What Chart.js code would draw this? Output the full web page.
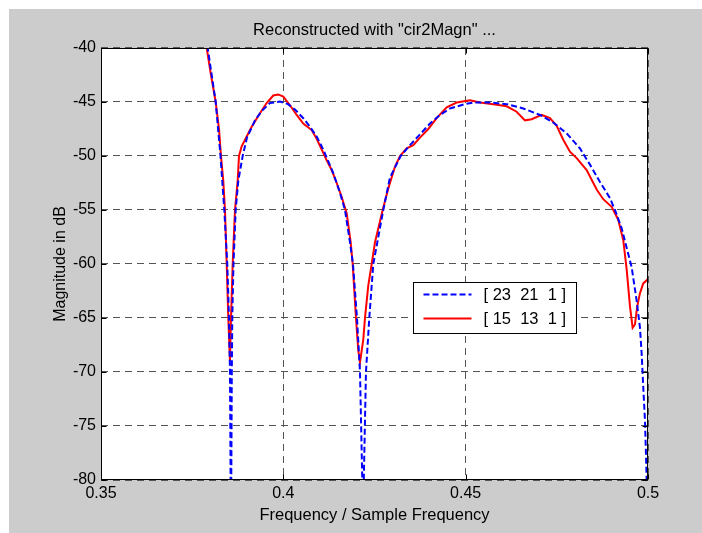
<!DOCTYPE html>
<html><head><meta charset="utf-8">
<script src="https://cdn.jsdelivr.net/npm/chart.js@4"></script>
<style>html,body{margin:0;padding:0;background:#fff}#wrap{width:702px;height:533px;position:relative}</style>
</head><body><div id="wrap"><canvas id="c"></canvas></div>
<script>
const titleText = 'Reconstructed with "cir2Magn" ...';
const xLabel = 'Frequency / Sample Frequency';
const yLabel = 'Magnitude in dB';
const xTicks = [0.35, 0.40, 0.45, 0.50];
const yTicks = [-80, -75, -70, -65, -60, -55, -50, -45, -40];
const seriesLabels = ['[ 23  21  1 ]', '[ 15  13  1 ]'];

const blueFreq = [0.37769,0.37926,0.38145,0.38277,0.38381,0.38463,0.38510,0.38537,0.38554,0.38562,0.38573,0.38587,0.38600,0.38633,0.38693,0.38765,0.38885,0.39003,0.39223,0.39415,0.39634,0.39908,0.40128,0.40319,0.40547,0.40731,0.40914,0.41095,0.41370,0.41553,0.41690,0.41828,0.41910,0.42020,0.42102,0.42165,0.42184,0.42206,0.42266,0.42357,0.42467,0.42741,0.42924,0.43218,0.43473,0.43747,0.44021,0.44295,0.44570,0.44981,0.45208,0.45666,0.46124,0.46580,0.47037,0.47402,0.47770,0.48134,0.48408,0.48683,0.48957,0.49094,0.49278,0.49415,0.49552,0.49689,0.49780,0.49826,0.49870,0.49917,0.49944,0.49963,0.50000];
const blueDb = [-36.5,-40,-45,-50,-55,-60,-65,-70,-80,-100,-80,-70,-65,-60,-55,-52.3,-50,-48.3,-46.7,-45.8,-45.1,-44.95,-45.2,-45.7,-46.5,-47.3,-48.2,-49.4,-51.6,-53.4,-55,-58,-60,-65,-70,-80,-100,-80,-70,-65,-60,-55,-52,-50,-49,-48,-47,-46.2,-45.6,-45.2,-45.05,-45.05,-45.2,-45.6,-46.2,-46.9,-47.9,-49.3,-50.8,-52.4,-53.9,-55,-56.7,-58.5,-60.3,-63.4,-65.9,-68.3,-71.4,-74.5,-77.6,-80,-100];

const redFreq = [0.37838,0.37898,0.38016,0.38145,0.38236,0.38290,0.38353,0.38400,0.38447,0.38491,0.38537,0.38565,0.38611,0.38674,0.38748,0.38784,0.38858,0.38995,0.39132,0.39360,0.39543,0.39724,0.39862,0.39999,0.40182,0.40366,0.40547,0.40777,0.40914,0.41052,0.41189,0.41326,0.41463,0.41600,0.41737,0.41847,0.41902,0.41992,0.42055,0.42102,0.42192,0.42239,0.42329,0.42423,0.42513,0.42724,0.42878,0.43061,0.43199,0.43382,0.43563,0.43747,0.43975,0.44205,0.44479,0.44753,0.45118,0.45392,0.45757,0.46124,0.46398,0.46626,0.46810,0.47084,0.47312,0.47495,0.47676,0.47860,0.48044,0.48318,0.48592,0.48773,0.49003,0.49184,0.49322,0.49415,0.49505,0.49579,0.49642,0.49706,0.49780,0.49870,0.50000];
const redDb = [-38,-40,-42.5,-45,-47.5,-50,-52.3,-55,-60,-65,-69,-65,-60,-55,-52.3,-50,-49.1,-48.2,-47.3,-46.05,-45.1,-44.4,-44.3,-44.5,-45.3,-46.2,-47.0,-47.6,-48.4,-49.4,-50.4,-51.3,-52.5,-53.8,-55.3,-58,-60,-65,-68,-69.1,-67,-65,-62,-60,-58,-55,-53,-51,-50,-49.3,-49,-48.3,-47.5,-46.5,-45.5,-45.05,-44.85,-45.05,-45.2,-45.4,-45.9,-46.7,-46.6,-46.2,-46.5,-47.2,-48.5,-49.6,-50.2,-51.3,-53.1,-54.0,-54.7,-55.9,-57.8,-60.5,-63.9,-65.9,-65.6,-63.9,-62.7,-61.8,-61.4];

const FONT = '"Liberation Sans", Arial, Helvetica, sans-serif';
const toXY = (xs, ys) => xs.map((x, i) => ({x, y: ys[i]}));

const frame = {
  id: 'frame',
  beforeDraw(chart) {
    const {ctx, width, height, chartArea: a} = chart;
    ctx.save();
    ctx.fillStyle = '#ffffff'; ctx.fillRect(0, 0, width, height);
    ctx.fillStyle = '#cccccc'; ctx.fillRect(9, 9, width - 9, height - 9);
    ctx.fillStyle = '#ffffff'; ctx.fillRect(a.left, a.top, a.right - a.left, a.bottom - a.top);
    ctx.restore();
  },
  afterDatasetsDraw(chart) {
    const {ctx, chartArea: a, scales} = chart;
    ctx.save();
    ctx.strokeStyle = '#000'; ctx.lineWidth = 1; ctx.setLineDash([]);
    const L = Math.round(a.left) + 0.5, R = Math.round(a.right) - 0.5;
    const T = Math.round(a.top) + 0.5, B = Math.round(a.bottom) - 0.5;
    ctx.strokeRect(L, T, R - L, B - T);
    ctx.beginPath();
    xTicks.forEach(v => {
      const px = Math.round(scales.x.getPixelForValue(v)) + 0.5;
      ctx.moveTo(px, B); ctx.lineTo(px, B - 5);
      ctx.moveTo(px, T); ctx.lineTo(px, T + 5);
    });
    yTicks.forEach(v => {
      const py = Math.round(scales.y.getPixelForValue(v)) + 0.5;
      ctx.moveTo(L, py); ctx.lineTo(L + 5, py);
      ctx.moveTo(R, py); ctx.lineTo(R - 5, py);
    });
    ctx.stroke();
    // legend
    const lx = Math.round(a.left + 312) + 0.5, ly = Math.round(a.top + 234) + 0.5;
    const lw = 163, lh = 51;
    ctx.fillStyle = '#fff';
    ctx.fillRect(lx, ly, lw, lh);
    ctx.strokeRect(lx, ly, lw, lh);
    chart.data.datasets.forEach((ds, i) => {
      const yy = ly + 12 + i * 24;
      ctx.beginPath();
      ctx.strokeStyle = ds.borderColor; ctx.lineWidth = 2;
      ctx.setLineDash(ds.borderDash || []);
      ctx.moveTo(lx + 10, yy); ctx.lineTo(lx + 58, yy);
      ctx.stroke();
      ctx.setLineDash([]);
      ctx.fillStyle = '#000';
      ctx.font = '16.5px ' + FONT;
      ctx.textBaseline = 'middle'; ctx.textAlign = 'left';
      ctx.fillText(ds.label, lx + 70, yy + 1);
    });
    ctx.restore();
  }
};

new Chart(document.getElementById('c'), {
  type: 'scatter',
  data: {
    datasets: [
      {label: seriesLabels[0], data: toXY(blueFreq, blueDb), showLine: true, borderColor: '#0000ff', borderWidth: 2, borderDash: [6, 3], pointRadius: 0, tension: 0, clip: 0},
      {label: seriesLabels[1], data: toXY(redFreq, redDb), showLine: true, borderColor: '#ff0000', borderWidth: 2, pointRadius: 0, tension: 0, clip: 0}
    ]
  },
  options: {
    responsive: true, maintainAspectRatio: false, animation: false,
    devicePixelRatio: 1,
    layout: {padding: {left: 0, right: 54, top: 0, bottom: 0}},
    plugins: {
      legend: {display: false}, tooltip: {enabled: false},
      title: {display: true, text: titleText, fullSize: false, color: '#000',
        font: {family: FONT, size: 16.5, weight: 'normal', lineHeight: 1.09},
        padding: {top: 21, bottom: 9}}
    },
    scales: {
      x: {
        type: 'linear', min: 0.35, max: 0.5,
        afterFit: s => { s.height = 53; },
        afterBuildTicks: s => { s.ticks = xTicks.map(v => ({value: v})); },
        ticks: {color: '#000', padding: 4, font: {family: FONT, size: 16}, maxRotation: 0,
          callback: v => String(+(+v).toFixed(2))},
        grid: {color: '#555', lineWidth: 1, drawTicks: false},
        border: {display: false, dash: [7, 5]},
        title: {display: true, text: xLabel, color: '#000', font: {family: FONT, size: 16.5, lineHeight: 1.09}, padding: {top: 0, bottom: 9}}
      },
      y: {
        type: 'linear', min: -80, max: -40,
        afterFit: s => { s.width = 101; },
        afterBuildTicks: s => { s.ticks = yTicks.map(v => ({value: v})); },
        ticks: {color: '#000', padding: 5, font: {family: FONT, size: 16}},
        grid: {color: '#555', lineWidth: 1, drawTicks: false},
        border: {display: false, dash: [7, 5]},
        title: {display: true, text: yLabel, color: '#000', font: {family: FONT, size: 16, lineHeight: 1.125}, padding: {top: 52, bottom: 0}}
      }
    }
  },
  plugins: [frame]
});
</script>
</body></html>
